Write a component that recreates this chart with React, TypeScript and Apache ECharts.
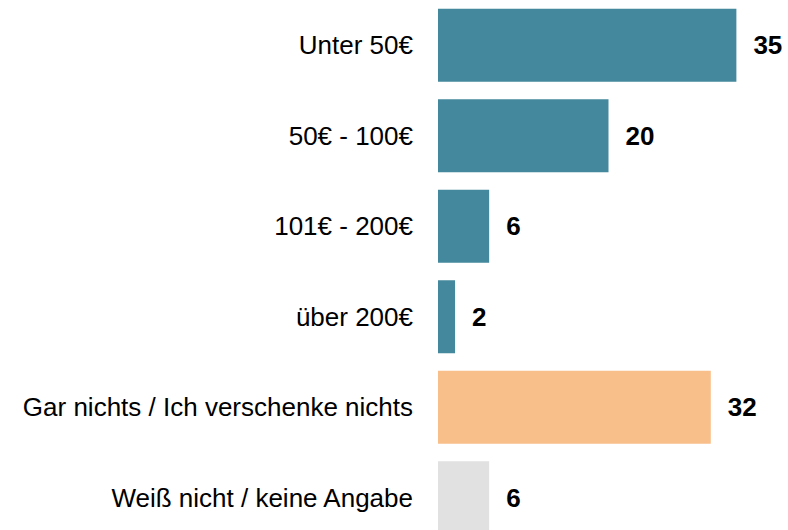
import React, { useEffect, useRef } from "react";
import * as echarts from "echarts";

const categories = [
  "Unter 50€",
  "50€ - 100€",
  "101€ - 200€",
  "über 200€",
  "Gar nichts / Ich verschenke nichts",
  "Weiß nicht / keine Angabe",
];
const values = [35, 20, 6, 2, 32, 6];
const barColors = ["#44889D", "#44889D", "#44889D", "#44889D", "#F8BF8B", "#E1E1E1"];

export default function App() {
  const ref = useRef<HTMLDivElement>(null);
  useEffect(() => {
    if (!ref.current) return;
    const chart = echarts.init(ref.current, undefined, { renderer: "svg" });
    chart.setOption({
      animation: false,
      backgroundColor: "#ffffff",
      grid: { left: 438, right: 9, top: 0, bottom: 0, containLabel: false },
      xAxis: {
        type: "value",
        min: 0,
        max: 40,
        show: false,
        splitLine: { show: false },
      },
      yAxis: {
        type: "category",
        data: categories,
        inverse: true,
        axisLine: { show: false },
        axisTick: { show: false },
        axisLabel: {
          margin: 25,
          fontSize: 26,
          fontFamily: "Liberation Sans, Arial, sans-serif",
          color: "#000000",
        },
      },
      series: [
        {
          type: "bar",
          barWidth: 73,
          data: values.map((v, i) => ({ value: v, itemStyle: { color: barColors[i] } })),
          label: {
            show: true,
            position: "right",
            distance: 17,
            fontSize: 26,
            fontWeight: "bold",
            fontFamily: "Liberation Sans, Arial, sans-serif",
            color: "#000000",
          },
        },
      ],
    });
    return () => chart.dispose();
  }, []);
  return (
    <div style={{ position: "fixed", left: 0, top: 0, width: 788, height: 530, overflow: "hidden", background: "#fff" }}>
      <div ref={ref} style={{ width: 788, height: 543 }} />
    </div>
  );
}
